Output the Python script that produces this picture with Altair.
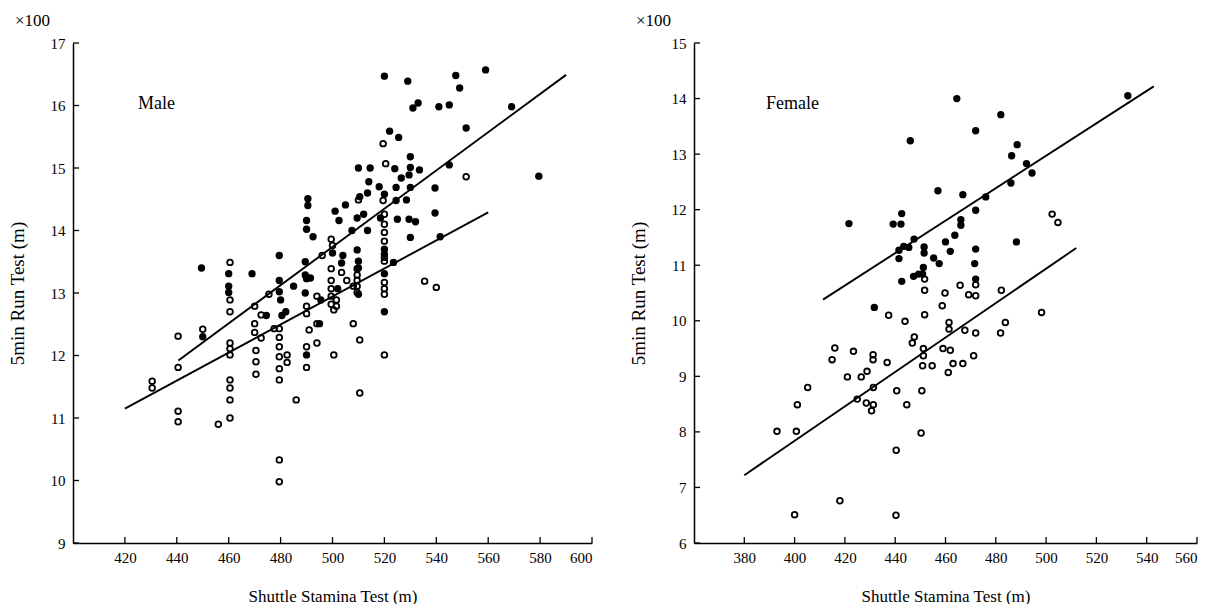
import altair as alt
import pandas as pd

FONT = "Liberation Serif"

# ---------------- Male data ----------------
male_filled_x = [520, 529, 531, 533, 541, 545, 547.5, 549, 559, 569, 579.5, 551.5, 545, 539.5, 539.5, 541.5,
                 522, 525.5, 530, 530, 529.5, 533.5, 526.5, 524, 524.5, 528.5, 530, 524.5, 525, 529.5, 532, 530,
                 523.5, 520, 520, 520, 520, 520, 518.5, 514.5, 510, 518, 514, 513.5, 510.5, 512, 509.5, 513.5,
                 507.5, 509.5, 510, 510, 510, 505, 501, 502.5, 500, 504, 503.5, 502, 490.5, 490.5, 490, 490,
                 492.5, 489.5, 489.5, 490, 491.5, 489.5, 495.5, 495, 490, 479.5, 479.5, 479.5, 480, 480.5, 482,
                 485, 474.5, 469, 460, 460, 460, 449.5, 450]
male_filled_y = [16.47, 16.39, 15.96, 16.04, 15.98, 16.01, 16.48, 16.28, 16.57, 15.98, 14.87, 15.64, 15.05, 14.68,
                 14.28, 13.9, 15.59, 15.49, 15.18, 15.01, 14.89, 14.97, 14.84, 14.99, 14.69, 14.49, 14.69, 14.48,
                 14.18, 14.18, 14.14, 13.89, 13.49, 13.31, 12.7, 13.7, 13.62, 14.58, 14.2, 15.0, 15.0, 14.7, 14.78,
                 14.6, 14.54, 14.26, 14.2, 14.0, 14.0, 13.69, 13.51, 13.4, 12.98, 14.41, 14.31, 14.16, 13.64, 13.6,
                 13.48, 13.07, 14.51, 14.4, 14.16, 14.02, 13.9, 13.5, 13.29, 13.23, 13.24, 13.0, 12.89, 12.51, 12.01,
                 13.6, 13.2, 13.02, 12.89, 12.64, 12.7, 13.11, 12.64, 13.31, 13.31, 13.11, 13.01, 13.4, 12.3]

male_open_x = [519.5, 520.5, 551.5, 510, 519.5, 520, 520, 520, 520, 520, 520, 520, 520, 520, 520, 535.5, 540,
               508, 510.5, 510.5, 500.5, 499.5, 500, 499.5, 499.5, 499.5, 499.5, 499.5, 500.5, 501.5, 501.5,
               503.5, 505.5, 508, 509.5, 509.5, 509.5, 509.5, 509.5, 496, 494, 494, 491, 490, 490, 490, 490, 494,
               479.5, 479.5, 479.5, 479.5, 479.5, 479.5, 479.5, 479.5, 482.5, 482.5, 486, 477.5, 475.5, 472.5,
               472.5, 470, 470, 470, 470.5, 470.5, 470.5, 460.5, 460.5, 460.5, 460.5, 460.5, 460.5, 460.5, 460.5,
               460.5, 460.5, 456, 440.5, 440.5, 440.5, 440.5, 430.5, 430.5, 450]
male_open_y = [15.39, 15.07, 14.86, 14.49, 14.48, 14.26, 14.1, 13.97, 13.83, 13.57, 13.51, 13.17, 13.07, 12.98,
               12.01, 13.19, 13.09, 12.51, 12.25, 11.4, 12.01, 13.86, 13.76, 13.39, 13.2, 13.07, 12.95, 12.82,
               12.73, 12.89, 12.79, 13.33, 13.2, 13.11, 13.39, 13.29, 13.2, 13.11, 13.01, 13.6, 12.95, 12.51,
               12.41, 12.79, 12.67, 12.14, 11.81, 12.2, 12.43, 12.29, 12.14, 11.98, 11.79, 11.61, 10.33, 9.98,
               12.01, 11.89, 11.29, 12.43, 12.98, 12.65, 12.28, 12.79, 12.51, 12.37, 12.08, 11.9, 11.7, 13.49,
               12.89, 12.7, 12.2, 12.11, 12.01, 11.61, 11.48, 11.29, 11.0, 10.9, 12.31, 11.81, 11.11, 10.94,
               11.59, 11.48, 12.42]

male_line_x = [440.6, 590, 420, 560]
male_line_y = [11.92, 16.49, 11.15, 14.29]
male_line_id = ["a", "a", "b", "b"]

# ---------------- Female data ----------------
female_filled_x = [464.5, 482, 472, 446, 488.5, 486.3, 492.2, 494.4, 486, 532.5, 457, 466.9, 476, 472, 442.6,
                   421.6, 439.2, 442.3, 466.1, 466.1, 463.7, 460, 488.2, 447.5, 443.4, 445.4, 441.5, 441.5,
                   451.5, 451.5, 455.3, 457.5, 461.9, 472, 471.6, 451.2, 450.9, 449.3, 447.3, 472, 442.6, 431.7]
female_filled_y = [14.0, 13.71, 13.42, 13.24, 13.17, 12.97, 12.83, 12.66, 12.48, 14.05, 12.34, 12.27, 12.23,
                   11.99, 11.93, 11.75, 11.74, 11.74, 11.82, 11.72, 11.54, 11.42, 11.42, 11.47, 11.34, 11.32,
                   11.27, 11.12, 11.33, 11.22, 11.13, 11.03, 11.25, 11.29, 11.03, 10.96, 10.84, 10.84, 10.8,
                   10.75, 10.71, 10.24]

female_open_x = [502.4, 504.7, 451.7, 451.7, 465.8, 472, 472, 469.2, 459.8, 482.2, 458.7, 437.4, 451.7, 498.2,
                 443.9, 461.4, 461.4, 467.7, 472, 481.9, 483.8, 447.6, 446.8, 416, 414.9, 423.4, 431.2, 431.2,
                 436.8, 451.2, 451.2, 459, 461.9, 471.2, 450.9, 454.7, 463, 466.9, 461.1, 421, 426.5, 428.8,
                 405.2, 431.3, 440.6, 450.6, 424.9, 428.5, 431.3, 430.6, 401.1, 444.6, 393, 400.7, 450.3, 440.4,
                 418, 400, 440.3]
female_open_y = [11.92, 11.77, 10.75, 10.55, 10.64, 10.65, 10.45, 10.47, 10.5, 10.55, 10.27, 10.1, 10.11, 10.15,
                 9.99, 9.97, 9.85, 9.83, 9.78, 9.78, 9.97, 9.71, 9.6, 9.51, 9.3, 9.45, 9.39, 9.3, 9.25, 9.5,
                 9.37, 9.5, 9.47, 9.37, 9.19, 9.19, 9.23, 9.23, 9.07, 8.99, 8.99, 9.09, 8.8, 8.8, 8.74, 8.74,
                 8.59, 8.52, 8.49, 8.38, 8.49, 8.49, 8.01, 8.01, 7.98, 7.67, 6.76, 6.51, 6.5]

female_line_x = [411.3, 542.8, 380, 512]
female_line_y = [10.38, 14.22, 7.22, 11.31]
female_line_id = ["a", "a", "b", "b"]

male_xticks = [420, 440, 460, 480, 500, 520, 540, 560, 580, 600]
male_yticks = [9, 10, 11, 12, 13, 14, 15, 16, 17]
female_xticks = [380, 400, 420, 440, 460, 480, 500, 520, 540, 560]
female_yticks = [6, 7, 8, 9, 10, 11, 12, 13, 14, 15]

X_TITLE = "Shuttle Stamina Test (m)"
Y_TITLE = "5min Run Test (m)"


def panel(fx, fy, ox, oy, lx, ly, lid, xdom, ydom, xticks, yticks, label, label_x, W, H):
    xs = alt.Scale(domain=xdom, nice=False, zero=False)
    ys = alt.Scale(domain=ydom, nice=False, zero=False)
    xax = alt.Axis(values=xticks, ticks=False, grid=False, labelPadding=7, title=X_TITLE,
                   titlePadding=23, titleFontSize=17, format="d")
    yax = alt.Axis(values=yticks, ticks=False, grid=False, labelPadding=8, title=Y_TITLE,
                   titlePadding=23, titleFontSize=19, format="d")

    filled = alt.Chart(pd.DataFrame({"x": fx, "y": fy})).mark_circle(
        size=54, color="black", opacity=1).encode(
        x=alt.X("x:Q", scale=xs, axis=xax), y=alt.Y("y:Q", scale=ys, axis=yax))
    opened = alt.Chart(pd.DataFrame({"x": ox, "y": oy})).mark_point(
        shape="circle", size=32, filled=False, color="black", strokeWidth=1.8, opacity=1).encode(
        x=alt.X("x:Q", scale=xs), y=alt.Y("y:Q", scale=ys))
    lines = alt.Chart(pd.DataFrame({"x": lx, "y": ly, "g": lid})).mark_line(
        color="black", strokeWidth=1.9).encode(
        x=alt.X("x:Q", scale=xs), y=alt.Y("y:Q", scale=ys), detail="g:N")
    xt = alt.Chart(pd.DataFrame({"v": xticks})).mark_rule(color="black", strokeWidth=1.3).encode(
        x=alt.X("v:Q", scale=xs), y=alt.value(H), y2=alt.value(H - 6))
    yt = alt.Chart(pd.DataFrame({"v": yticks})).mark_rule(color="black", strokeWidth=1.3).encode(
        y=alt.Y("v:Q", scale=ys), x=alt.value(0), x2=alt.value(6))
    lab = alt.Chart(pd.DataFrame({"t": [label]})).mark_text(
        font=FONT, fontSize=18, align="left", baseline="middle", color="black").encode(
        text="t:N", x=alt.value(label_x), y=alt.value(61))
    mult = alt.Chart(pd.DataFrame({"t": ["×100"]})).mark_text(
        font=FONT, fontSize=17, align="left", baseline="middle", color="black").encode(
        text="t:N", x=alt.value(-58), y=alt.value(-22))
    return alt.layer(filled, opened, lines, xt, yt, lab, mult).properties(width=W, height=H)


male = panel(male_filled_x, male_filled_y, male_open_x, male_open_y, male_line_x, male_line_y, male_line_id,
             [400, 600], [9, 17], male_xticks, male_yticks, "Male", 65, 519, 500)
female = panel(female_filled_x, female_filled_y, female_open_x, female_open_y, female_line_x, female_line_y,
               female_line_id, [360, 560], [6, 15], female_xticks, female_yticks, "Female", 72, 503, 500)

chart = alt.hconcat(male, female, spacing=36).properties(
    padding={"left": 0, "top": 4, "right": 0, "bottom": 0},
    background="white"
).configure_view(stroke=None).configure_axis(
    domainColor="black", domainWidth=1.5, labelColor="black", titleColor="black",
    labelFont=FONT, titleFont=FONT, labelFontSize=15,
    titleFontWeight="normal"
)

chart.save("out.html", embed_options={"renderer": "svg", "actions": False})
